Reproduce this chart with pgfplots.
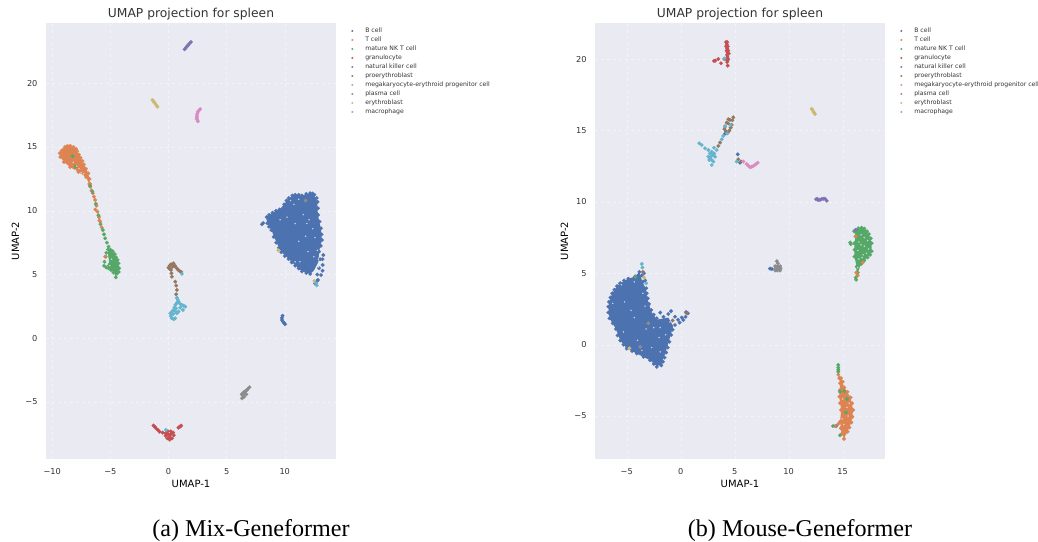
\documentclass[border=0pt]{standalone}
\usepackage{fontspec}
\setmainfont{DejaVu Sans}
\newfontfamily\capfont{Liberation Serif}
\usepackage{pgfplots}
\pgfplotsset{compat=1.18}

\definecolor{bgc}{HTML}{EAEAF2}
\definecolor{txt}{HTML}{333333}
\definecolor{cB}{HTML}{4C72B0}
\definecolor{cT}{HTML}{DD8452}
\definecolor{cNKT}{HTML}{55A868}
\definecolor{cGran}{HTML}{C44E52}
\definecolor{cNK}{HTML}{8172B3}
\definecolor{cPro}{HTML}{937860}
\definecolor{cMeg}{HTML}{DA8BC3}
\definecolor{cPla}{HTML}{8C8C8C}
\definecolor{cEry}{HTML}{CCB974}
\definecolor{cMac}{HTML}{64B5CD}

\pgfplotsset{
  umap/.style={
    scale only axis, width=290pt, height=436pt,
    axis background/.style={fill=bgc},
    axis line style={draw=none},
    major tick length=0pt,
    grid=major,
    grid style={white, dashed, line width=0.35pt, opacity=0.45},
    title={UMAP projection for spleen},
    title style={font=\fontsize{12.3}{14}\selectfont, text=txt, at={(axis description cs:0.5,1)}, yshift=-7pt},
    xlabel={UMAP-1}, ylabel={UMAP-2},
    label style={font=\fontsize{10.3}{12}\selectfont, text=txt},
    every axis x label/.style={at={(axis description cs:0.5,0)}, yshift=-25pt, anchor=center},
    every axis y label/.style={at={(axis description cs:0,0.5)}, xshift=-30.5pt, rotate=90, anchor=center},
    tick label style={font=\fontsize{8.2}{10}\selectfont, text=txt},
    xticklabel style={yshift=-6pt},
    yticklabel style={xshift=-5pt},
    legend cell align=left,
    legend style={draw=none, fill=none, at={(axis description cs:1.042,0.993)}, anchor=north west,
      font=\fontsize{6.15}{6}\selectfont, text=txt, row sep=3.6pt, column sep=12pt,
      nodes={inner sep=0pt, text height=4.2pt, text depth=1.2pt}},
    legend image post style={mark size=0.95pt},
  },
  pts/.style={only marks, color=#1, mark=*, mark size=1.9pt, mark options={solid, draw=#1, fill=#1, line width=0.1pt}},
  body/.style={fill=#1, draw=none, forget plot},
  speck/.style={only marks, color=bgc, mark=*, mark size=0.7pt, mark options={solid, draw=bgc, fill=bgc, line width=0.1pt, opacity=0.7}, forget plot},
}

\begin{document}
\begin{tikzpicture}[x=1pt,y=1pt]
\path[use as bounding box] (0,0) rectangle (1038,541);

% (a) Mix-Geneformer
\begin{axis}[umap, at={(46pt,82pt)}, anchor=south west,
  xmin=-10.54, xmax=14.41, ymin=-9.47, ymax=24.73,
  xtick={-10,-5,0,5,10}, xticklabels={−10,−5,0,5,10},
  ytick={-5,0,5,10,15,20}, yticklabels={−5,0,5,10,15,20}]

\addplot[body=cB] coordinates {(8.4,9.5)(8.95,9.85)(9.55,10.1)(9.95,10.5)(10.35,11.0)(10.90,11.25)(11.48,11.2)(12.19,11.35)(12.55,11.2)(12.8,10.7)(12.85,9.67)(13.1,8.63)(13.2,7.71)(12.95,6.80)(12.9,6.0)(12.5,5.3)(12.19,5.06)(11.48,5.28)(10.90,5.72)(10.33,6.24)(9.7,6.77)(9.28,7.55)(8.85,8.49)(8.5,9.02)} -- cycle;
\addplot[body=cT] coordinates {(-9.35,14.51)(-9.07,14.80)(-8.7,15.08)(-8.18,15.0)(-7.85,14.67)(-7.56,14.15)(-7.27,13.63)(-6.9,12.94)(-6.74,12.1)(-6.82,12.1)(-7.1,12.65)(-7.75,13.04)(-8.46,13.43)(-9.0,13.83)(-9.3,14.22)} -- cycle;
\addplot[body=cNKT] coordinates {(-5.2,6.96)(-4.8,6.83)(-4.52,6.35)(-4.3,5.88)(-4.25,5.49)(-4.45,5.06)(-4.53,4.85)(-4.73,5.2)(-5.1,5.55)(-5.3,5.7)(-5.1,6.0)(-5.2,6.5)} -- cycle;

\addplot[pts=cB] coordinates {(8.45,9.5)(8.95,9.85)(9.55,10.1)(9.95,10.5)(10.35,11.0)(10.90,11.25)(11.48,11.2)(12.19,11.38)(12.55,11.25)(12.82,10.7)(12.87,9.67)(13.12,8.63)(13.2,7.71)(12.95,6.80)(13.32,6.53)(13.26,5.75)(13.12,4.96)(12.85,4.57)(12.6,4.3)(12.19,5.05)(11.48,5.25)(10.90,5.7)(10.33,6.22)(9.7,6.75)(9.26,7.5)(8.85,8.49)(8.5,9.02)(8.04,8.94)(8.15,9.04)(9.0,9.6)(9.5,8.8)(10.1,10.4)(10.7,9.7)(11.4,10.2)(12.1,10.6)(12.5,9.2)(12.8,8.0)(11.8,7.0)(11.1,6.3)(10.0,7.6)(10.9,8.4)(12.1,6.0)(13.05,6.2)(12.95,5.5)(12.8,5.0)(11.9,5.4)(11.3,5.55)(12.2,5.3)(9.81,1.77)(9.76,1.6)(9.76,1.43)(9.85,1.3)(9.95,1.2)(10.03,1.10)(8.65,9.68)(9.25,10.0)(10.15,10.8)(10.65,11.2)(11.2,11.25)(11.85,11.32)(12.4,11.35)(12.75,11.0)(12.85,10.2)(13.0,9.15)(13.17,8.15)(13.1,7.25)(8.65,8.75)(9.05,7.95)(9.5,7.1)(10.0,6.45)(10.6,5.95)(11.2,5.48)(11.85,5.12)(13.25,6.2)(13.25,5.3)(12.72,4.45)};
\addlegendentry{B cell}
\addplot[pts=cT] coordinates {(-9.35,14.51)(-9.07,14.80)(-8.7,15.08)(-8.18,15.0)(-7.85,14.67)(-7.56,14.15)(-7.27,13.63)(-6.9,12.94)(-6.74,12.1)(-6.82,12.1)(-7.1,12.65)(-7.75,13.04)(-8.46,13.43)(-9.0,13.83)(-9.3,14.22)(-8.9,14.6)(-8.3,14.5)(-7.9,13.9)(-7.4,13.2)(-6.74,11.89)(-6.62,11.6)(-6.51,11.37)(-6.41,11.1)(-6.31,10.85)(-6.2,10.4)(-6.11,9.93)(-5.98,9.5)(-5.88,9.15)(-5.75,8.7)(-9.2,14.7)(-8.9,15.0)(-8.45,15.1)(-7.95,14.85)(-7.7,14.4)(-7.4,13.9)(-7.1,13.3)(-6.8,12.5)};
\addlegendentry{T cell}
\addplot[pts=cNKT] coordinates {(-6.74,11.95)(-6.55,11.5)(-6.25,10.55)(-6.03,9.65)(-5.85,8.95)(-5.65,8.49)(-5.55,8.15)(-5.45,7.84)(-5.3,7.5)(-5.16,7.18)(-5.2,6.96)(-4.8,6.83)(-4.52,6.35)(-4.3,5.88)(-4.25,5.49)(-4.45,5.06)(-4.53,4.78)(-4.73,5.15)(-5.16,5.49)(-5.55,5.69)(-5.5,6.0)(-5.4,6.40)(-8.25,14.28)(-8.0,13.45)(-5.0,6.95)(-4.62,6.6)(-4.38,6.15)(-4.28,5.2)(-4.95,5.35)(-5.35,5.55)(-5.35,6.7)};
\addlegendentry{mature NK T cell}
\addplot[pts=cGran] coordinates {(-1.29,-6.85)(-1.18,-6.95)(-1.05,-7.08)(-0.9,-7.2)(-0.77,-7.33)(-0.5,-7.4)(-0.25,-7.45)(-0.05,-7.3)(0.2,-7.3)(0.4,-7.4)(0.45,-7.6)(0.3,-7.85)(0.1,-7.95)(-0.1,-7.85)(-0.25,-7.65)(0.1,-7.6)(0.2,-7.5)(-0.05,-7.55)(0.1,-7.75)(0.86,-7.01)(1.0,-6.92)(1.09,-6.85)};
\addlegendentry{granulocyte}
\addplot[pts=cNK] coordinates {(1.38,22.67)(1.5,22.8)(1.6,22.9)(1.7,23.0)(1.8,23.12)(1.93,23.24)};
\addlegendentry{natural killer cell}
\addplot[pts=cPro] coordinates {(0.0,5.54)(0.1,5.7)(0.21,5.80)(0.43,5.88)(0.55,5.7)(0.66,5.54)(0.8,5.4)(0.95,5.28)(1.1,5.2)(0.21,5.36)(0.25,5.1)(0.29,4.83)(0.58,4.44)(0.66,4.13)(0.72,3.79)(0.66,3.45)(0.1,5.45)(0.35,5.6)};
\addlegendentry{proerythroblast}
\addplot[pts=cMeg] coordinates {(2.73,17.98)(2.6,17.85)(2.53,17.77)(2.47,17.6)(2.44,17.44)(2.44,17.3)(2.44,17.18)(2.53,17.02)};
\addlegendentry{megakaryocyte-erythroid progenitor cell}
\addplot[pts=cPla] coordinates {(6.97,-3.84)(6.85,-3.95)(6.75,-4.05)(6.6,-4.31)(6.4,-4.45)(6.32,-4.71)(6.7,-4.4)(6.5,-4.6)(6.3,-4.4)(6.45,-4.25)(6.6,-4.15)};
\addlegendentry{plasma cell}
\addplot[pts=cEry] coordinates {(-1.38,18.69)(-1.28,18.57)(-1.18,18.45)(-1.06,18.3)(-0.95,18.16)(12.55,4.5)(9.45,6.9)};
\addlegendentry{erythroblast}
\addplot[pts=cMac] coordinates {(0.72,3.18)(0.8,3.0)(0.86,2.87)(0.7,2.75)(0.58,2.61)(0.5,2.4)(0.43,2.22)(0.3,2.1)(0.15,1.96)(0.2,1.75)(0.29,1.57)(0.45,1.5)(0.58,1.57)(0.72,1.96)(0.6,2.1)(0.4,1.9)(1.0,2.7)(1.15,2.61)(1.3,2.55)(1.44,2.48)(1.24,2.22)(0.86,2.09)(1.0,2.4)(0.65,2.35)(1.15,5.05)(-0.22,-7.19)(12.75,4.15)(12.7,4.3)};
\addlegendentry{macrophage}

% odd points on top of the green body, and the gaps in the clouds
\addplot[pts=cT, forget plot] coordinates {(-5.45,6.4)(-6.3,10.1)(-5.95,9.25)};
\addplot[pts=cPla, forget plot] coordinates {(11.8,10.8)};
\addplot[speck] coordinates {(10.5,10.8)(11.2,10.9)(11.6,9.7)(12.1,9.3)(12.4,8.6)(11.8,8.0)(12.6,7.9)(11.2,7.6)(10.2,9.5)(9.6,9.3)(10.9,9.0)(12.0,6.8)(12.5,6.4)(12.9,6.2)(12.95,5.9)(12.9,5.6)(12.75,5.3)(11.3,6.0)(10.9,6.0)(12.8,6.9)(10.8,10.5)(11.9,9.0)(-8.2,13.8)(-7.9,13.5)(-7.7,13.3)(-7.5,13.0)(-7.3,12.9)(-8.0,13.2)(-5.35,6.05)(-5.2,5.95)(-5.3,5.8)(-5.05,5.7)(-4.9,6.2)};
\end{axis}

% (b) Mouse-Geneformer
\begin{axis}[umap, at={(595pt,82pt)}, anchor=south west,
  xmin=-7.94, xmax=18.92, ymin=-8.01, ymax=22.54,
  xtick={-5,0,5,10,15}, xticklabels={−5,0,5,10,15},
  ytick={-5,0,5,10,15,20}, yticklabels={−5,0,5,10,15,20}]

\addplot[body=cB] coordinates {(-3.83,5.1)(-4.23,4.78)(-4.85,4.62)(-5.62,4.31)(-6.14,3.85)(-6.5,3.3)(-6.7,2.66)(-6.6,1.85)(-6.0,1.1)(-5.6,0.3)(-5.0,-0.27)(-4.07,-0.62)(-2.84,-1.09)(-2.22,-1.5)(-1.8,-1.4)(-1.55,-0.85)(-1.25,-0.15)(-0.93,0.68)(-0.7,1.3)(-1.15,1.9)(-2.22,1.75)(-2.74,2.33)(-3.1,3.25)(-3.25,3.95)(-3.56,4.41)} -- cycle;
\addplot[body=cNKT] coordinates {(16.05,7.95)(16.44,8.15)(17.0,8.13)(17.43,7.75)(17.68,7.11)(17.68,6.55)(17.3,6.12)(16.7,5.65)(16.4,5.05)(16.25,4.6)(16.2,4.7)(16.3,5.47)(16.08,6.17)(16.08,7.11)(16.2,7.57)} -- cycle;
\addplot[body=cT] coordinates {(14.6,-2.1)(14.85,-2.34)(15.15,-3.0)(15.73,-3.7)(15.97,-4.58)(15.8,-5.45)(15.45,-6.1)(15.12,-6.55)(14.9,-6.25)(14.76,-5.40)(14.85,-4.58)(14.69,-3.64)(14.76,-2.70)} -- cycle;

\addplot[pts=cB] coordinates {(-3.83,5.1)(-4.23,4.78)(-4.85,4.62)(-5.62,4.31)(-6.14,3.85)(-6.5,3.3)(-6.7,2.66)(-6.6,1.85)(-6.0,1.1)(-5.6,0.3)(-5.0,-0.27)(-4.07,-0.62)(-2.84,-1.09)(-2.22,-1.55)(-1.8,-1.45)(-1.5,-0.9)(-1.2,-0.2)(-0.88,0.68)(-0.53,1.38)(0.24,1.73)(0.66,2.2)(0.49,2.28)(0.1,1.9)(-0.25,1.75)(-0.53,1.96)(-1.15,2.15)(-1.6,1.95)(-2.22,1.85)(-2.74,2.43)(-3.05,3.25)(-3.2,3.95)(-3.5,4.41)(-3.61,4.85)(-5.5,3.3)(-4.6,3.6)(-3.9,2.9)(-5.9,2.2)(-5.0,1.5)(-4.0,1.2)(-3.0,0.6)(-2.2,0.2)(-1.7,0.9)(-3.2,-0.5)(-2.4,-1.0)(-1.9,2.25)(-0.9,2.35)(-3.4,5.0)(-3.3,4.5)(8.27,5.33)(8.45,5.3)(5.28,13.34)(5.49,12.75)(4.1,14.78)(14.4,-5.7)(-5.25,4.5)(-5.9,4.1)(-6.35,3.6)(-6.65,3.0)(-6.7,2.25)(-6.3,1.5)(-5.85,0.65)(-5.3,0.0)(-4.5,-0.45)(-3.45,-0.85)(-2.5,-1.35)(-1.65,-1.2)(-1.35,-0.55)(-1.05,0.2)(-0.75,1.05)(-0.1,1.55)(0.45,1.95)(-2.5,2.1)(-2.95,2.85)(-3.15,3.6)};
\addlegendentry{B cell}
\addplot[pts=cT] coordinates {(14.6,-2.1)(14.85,-2.34)(15.15,-3.0)(15.73,-3.7)(15.97,-4.58)(15.8,-5.45)(15.45,-6.1)(15.12,-6.6)(14.9,-6.25)(14.76,-5.40)(14.85,-4.58)(14.69,-3.64)(14.76,-2.70)(15.3,-3.8)(15.2,-5.0)(14.3,-5.7)(14.6,-5.55)(15.0,-2.6)(15.45,-3.3)(15.88,-4.1)(15.9,-5.05)(15.62,-5.8)(14.82,-5.85)(14.75,-4.1)(14.72,-3.2)(14.68,-2.35)};
\addlegendentry{T cell}
\addplot[pts=cNKT] coordinates {(16.05,7.95)(16.44,8.15)(17.0,8.13)(17.43,7.75)(17.68,7.11)(17.68,6.55)(17.3,6.12)(16.7,5.65)(16.4,5.05)(16.25,4.55)(16.2,4.7)(16.3,5.47)(16.08,6.17)(16.08,7.11)(16.2,7.57)(15.70,7.15)(15.75,7.05)(14.59,-1.42)(14.59,-1.6)(14.59,-1.75)(14.59,-1.89)(14.75,-3.3)(15.15,-3.25)(15.4,-3.8)(15.3,-4.75)(14.75,-6.35)(14.1,-5.7)(-4.2,4.75)(16.75,8.2)(17.25,7.95)(17.6,7.45)(17.55,6.3)(17.0,5.9)(16.1,6.65)};
\addlegendentry{mature NK T cell}
\addplot[pts=cGran] coordinates {(4.2,21.2)(4.3,21.2)(4.2,20.9)(4.35,20.9)(4.25,20.6)(4.4,20.6)(4.3,20.3)(4.45,20.4)(4.25,20.0)(4.4,20.0)(4.3,19.8)(4.35,19.55)(4.27,21.05)(4.3,20.75)(4.33,20.45)(4.33,20.15)(4.32,19.9)(3.08,19.88)(3.2,19.9)(3.48,20.02)(3.73,19.72)(4.04,20.02)};
\addlegendentry{granulocyte}
\addplot[pts=cNK] coordinates {(12.53,10.19)(12.74,10.12)(12.9,10.15)(13.06,10.21)(13.36,10.23)(13.52,10.09)(12.65,10.22)(13.2,10.22)(16.2,8.05)};
\addlegendentry{natural killer cell}
\addplot[pts=cPro] coordinates {(4.87,15.93)(4.56,15.75)(4.26,15.56)(4.10,15.28)(4.19,14.93)(4.5,15.0)(4.72,15.40)(4.41,15.80)(4.78,15.73)(4.05,15.1)(4.35,14.85)(4.62,15.2)(4.4,15.5)(3.64,14.16)(3.48,13.92)(5.33,12.99)(5.58,12.83)(-3.5,5.1)(-0.75,1.7)(0.55,2.2)};
\addlegendentry{proerythroblast}
\addplot[pts=cMeg] coordinates {(5.8,12.83)(6.1,12.66)(6.25,12.55)(6.42,12.43)(6.57,12.47)(6.72,12.52)(6.92,12.63)(7.13,12.75)};
\addlegendentry{megakaryocyte-erythroid progenitor cell}
\addplot[pts=cPla] coordinates {(8.9,5.85)(9.0,5.7)(8.75,5.5)(8.95,5.5)(9.2,5.5)(8.75,5.2)(8.95,5.2)(9.2,5.2)(9.25,5.35)(8.8,5.35)(9.05,5.35)(-3.0,1.5)(-3.75,-0.15)};
\addlegendentry{plasma cell}
\addplot[pts=cEry] coordinates {(12.13,16.52)(12.23,16.4)(12.33,16.27)(12.44,16.16)(-4.75,-0.25)(-3.4,4.7)};
\addlegendentry{erythroblast}
\addplot[pts=cMac] coordinates {(1.72,14.11)(1.94,13.99)(2.25,13.76)(2.56,13.64)(2.56,13.17)(2.65,12.94)(2.87,12.59)(3.02,12.83)(3.18,13.17)(2.87,13.52)(3.33,13.64)(2.78,13.17)(2.96,13.28)(2.87,12.94)(3.08,13.8)(2.7,13.4)(3.1,13.4)(2.7,13.05)(4.10,15.31)(4.62,15.40)(4.3,14.8)(3.94,14.63)(3.8,14.39)(5.18,12.83)(-3.61,5.66)(-3.55,5.4)(-3.2,4.3)(4.05,20.05)};
\addlegendentry{macrophage}

\addplot[pts=cT, forget plot] coordinates {(16.25,5.05)(16.4,4.85)(16.2,7.6)(16.85,5.75)};
\addplot[speck] coordinates {(-5.5,4.2)(-6.3,2.9)(-5.2,3.0)(-4.6,2.4)(-3.5,3.6)(-3.3,2.7)(-4.3,1.9)(-5.3,0.9)(-4.0,0.3)(-3.2,1.1)(-2.5,1.2)(-1.9,1.2)(-1.4,0.7)(-2.7,-0.2)(-1.9,-0.5)(-3.6,-0.4)(-1.0,1.6)(-2.0,0.5)(-4.3,4.4)
(16.7,7.7)(17.0,7.5)(17.3,7.3)(16.5,7.2)(17.0,6.9)(16.4,6.6)(17.4,6.7)(16.9,6.3)(16.5,6.0)(16.8,6.1)(17.2,6.4)(16.4,5.4)(16.7,7.0)
(15.0,-3.8)(15.4,-4.4)(15.1,-5.6)(15.5,-5.0)(14.95,-5.2)(15.6,-4.1)};
\end{axis}

\node[font=\capfont\fontsize{24.1}{28}\selectfont, text=black, anchor=center] at (251,10.5) {(a) Mix-Geneformer};
\node[font=\capfont\fontsize{24.1}{28}\selectfont, text=black, anchor=center] at (800,10.5) {(b) Mouse-Geneformer};
\end{tikzpicture}
\end{document}
